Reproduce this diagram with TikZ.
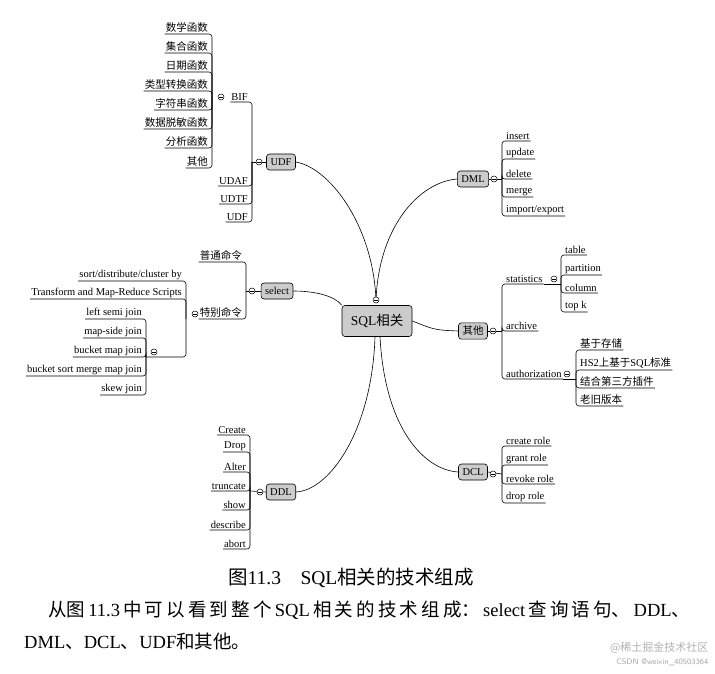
\documentclass[tikz,border=0pt]{standalone}
\usepackage{fontspec}
\setmainfont{Liberation Serif}
\newfontfamily\cjk{Noto Sans CJK SC}
\begin{document}
\begin{tikzpicture}[x=1pt,y=-1pt,
  lbl/.style={font=\fontsize{10.5}{11}\selectfont,inner xsep=1pt,inner ysep=1.5pt},
  br/.style={rounded corners=3pt,line width=0.6pt},
  con/.style={line width=0.6pt},
  main/.style={draw,fill=gray!40,rounded corners=3pt,font=\fontsize{10.5}{11}\selectfont,minimum height=16pt,inner xsep=4pt,line width=0.6pt},
  tog/.style={circle,draw,inner sep=0pt,minimum size=6pt,line width=0.5pt,fill=white,
    path picture={\draw ([xshift=1.2pt]path picture bounding box.west) -- ([xshift=-1.2pt]path picture bounding box.east);}}]
\useasboundingbox (0,0) rectangle (715,674);
\newcommand\Litem[5]{\node[lbl,anchor=south east] (#1) at ({#2-3},#3) {#5};
  \draw[br] (#1.south west) -- (#2,#3) -- (#2,#4);}
\newcommand\Ritem[5]{\node[lbl,anchor=south west] (#1) at ({#2+3},#3) {#5};
  \draw[br] (#1.south east) -- (#2,#3) -- (#2,#4);}

% centre
\node[main,font=\fontsize{13.5}{14}\selectfont,minimum width=70pt,minimum height=31pt] (sql) at (377,321) {SQL{\cjk 相关}};
\node[main] (udf) at (281,162) {UDF};
\node[main] (sel) at (277,291) {select};
\node[main] (ddl) at (281,492) {DDL};
\node[main] (dml) at (473,179) {DML};
\node[main] (oth) at (473,331) {\cjk 其他};
\node[main] (dcl) at (473,472) {DCL};

% curves
\node[tog] (t0) at (376,300) {};
\draw[con] (t0) .. controls (372,225) and (330,168) .. (udf.east);
\draw[con] (t0) .. controls (380,225) and (420,182) .. (dml.west);
\draw[con] (sql.north west) .. controls (335,296) and (315,291) .. (sel.east);
\draw[con] (sql.east) .. controls (435,330) .. (oth.west);
\draw[con] ([xshift=-2pt]sql.south) .. controls (372,430) and (330,490) .. (ddl.east);
\draw[con] ([xshift=3pt]sql.south) .. controls (385,430) and (425,470) .. (dcl.west);

% UDF group
\Litem{bif}{252}{102}{162}{BIF}
\Litem{udaf}{252}{186}{162}{UDAF}
\Litem{udtf}{252}{204}{162}{UDTF}
\Litem{udf2}{252}{222}{162}{UDF}
\draw[con] (252,162) -- (udf.west);
\node[tog] (tu) at (259,162) {};
\Litem{b1}{212}{34}{102}{\cjk 数学函数}
\Litem{b2}{212}{53}{102}{\cjk 集合函数}
\Litem{b3}{212}{72}{102}{\cjk 日期函数}
\Litem{b4}{212}{91}{102}{\cjk 类型转换函数}
\Litem{b5}{212}{110}{102}{\cjk 字符串函数}
\Litem{b6}{212}{129}{102}{\cjk 数据脱敏函数}
\Litem{b7}{212}{148}{102}{\cjk 分析函数}
\Litem{b8}{212}{168}{102}{\cjk 其他}
\node[tog] (tb) at (221,97) {};

% select group
\Litem{s1}{246}{262}{291}{\cjk 普通命令}
\Litem{s2}{246}{319}{291}{\cjk 特别命令}
\draw[con] (246,291) -- (sel.west);
\node[tog] (ts) at (252,291) {};
\node[tog] (ts2) at (195,314) {};
\Litem{p1}{186}{281}{319}{sort/distribute/cluster by}
\Litem{p2}{186}{299}{319}{Transform and Map-Reduce Scripts}
\draw[br] (146,357) -- (186,357) -- (186,319);
\Litem{j1}{146}{319}{357}{left semi join}
\Litem{j2}{146}{338}{357}{map-side join}
\Litem{j3}{146}{357}{357}{bucket map join}
\Litem{j4}{146}{376}{357}{bucket sort merge map join}
\Litem{j5}{146}{395}{357}{skew join}
\node[tog] (tj) at (154,352) {};

% DDL group
\Litem{d1}{250}{435}{491}{Create}
\Litem{d2}{250}{452}{491}{Drop}
\Litem{d3}{250}{472}{491}{Alter}
\Litem{d4}{250}{491}{491}{truncate}
\Litem{d5}{250}{510}{491}{show}
\Litem{d6}{250}{530}{491}{describe}
\Litem{d7}{250}{549}{491}{abort}
\draw[con] (250,491) -- (ddl.west);
\node[tog] (td) at (260,492) {};

% DML group
\Ritem{m1}{502}{141}{179}{insert}
\Ritem{m2}{502}{159}{179}{update}
\Ritem{m3}{502}{179}{179}{delete}
\Ritem{m4}{502}{197}{179}{merge}
\Ritem{m5}{502}{216}{179}{import/export}
\draw[con] (dml.east) -- (502,179);
\node[tog] (tm) at (494,179) {};

% Others group
\Ritem{o1}{502}{284}{331}{statistics}
\Ritem{o2}{502}{331}{331}{archive}
\Ritem{o3}{502}{379}{331}{authorization}
\draw[con] (oth.east) -- (502,331);
\node[tog] (to) at (493,331) {};
\Ritem{st1}{561}{255}{284}{table}
\Ritem{st2}{561}{275}{284}{partition}
\Ritem{st3}{561}{293}{284}{column}
\Ritem{st4}{561}{312}{284}{top k}
\draw[con] (o1.south east) -- (561,284);
\node[tog] (tst) at (554,279) {};
\Ritem{a1}{576}{350}{379}{\cjk 基于存储}
\Ritem{a2}{576}{370}{379}{HS2{\cjk 上基于}SQL{\cjk 标准}}
\Ritem{a3}{576}{388}{379}{\cjk 结合第三方插件}
\Ritem{a4}{576}{406}{379}{\cjk 老旧版本}
\draw[con] (o3.south east) -- (576,379);
\node[tog] (ta) at (567,374) {};

% DCL group
\Ritem{c1}{502}{446}{474}{create role}
\Ritem{c2}{502}{465}{474}{grant role}
\Ritem{c3}{502}{484}{474}{revoke role}
\Ritem{c4}{502}{503}{474}{drop role}
\draw[con] (dcl.east) -- (502,474);
\node[tog] (tc) at (493,474) {};

% captions
\node[font=\fontsize{19.5}{20}\selectfont] (cap) at (351,578) {{\cjk 图}11.3\quad SQL{\cjk 相关的技术组成}};
\node[font=\fontsize{18.5}{19}\selectfont,anchor=west,inner sep=0pt] (par1) at (48,610) {\hbox to 642pt{{\cjk 从图}\hfil 11.3\hfil{\cjk 中\hfil 可\hfil 以\hfil 看\hfil 到\hfil 整\hfil 个}\hfil SQL\hfil{\cjk 相\hfil 关\hfil 的\hfil 技\hfil 术\hfil 组\hfil 成：}\hfil select\hfil{\cjk 查\hfil 询\hfil 语\hfil 句、}\hfil DDL{\cjk 、}}};
\node[font=\fontsize{18.5}{19}\selectfont,anchor=west,inner sep=0pt] (par2) at (24,641) {DML{\cjk 、}DCL{\cjk 、}UDF{\cjk 和其他。}};
\node[font=\fontsize{11}{12}\selectfont\cjk,text=gray!60,anchor=east] (wm1) at (712,648) {@稀土掘金技术社区};
\node[font=\fontsize{8}{9}\selectfont\sffamily,text=gray!70,anchor=east] (wm2) at (712,662) {CSDN @weixin\_40503364};
\end{tikzpicture}
\end{document}
